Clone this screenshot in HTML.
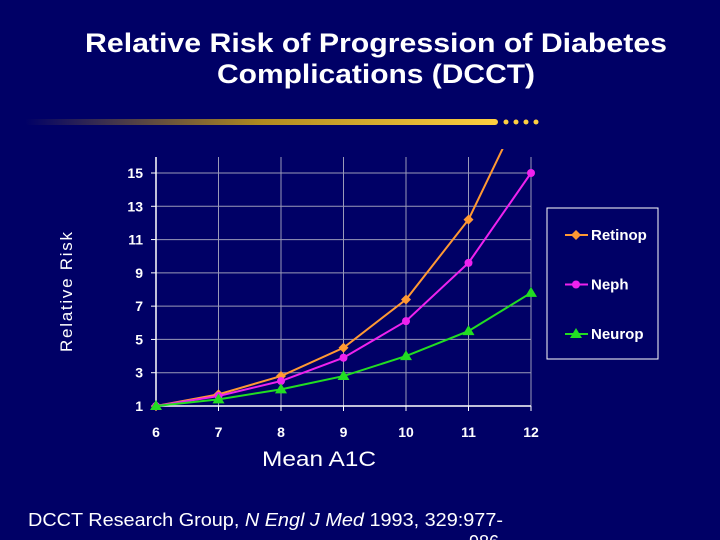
<!DOCTYPE html>
<html><head><meta charset="utf-8"><style>
body{margin:0;background:#000066;}
svg{display:block;font-family:"Liberation Sans",sans-serif;}
</style></head><body>
<svg width="720" height="540" viewBox="0 0 720 540">
<defs>
<linearGradient id="gold" x1="0" x2="1" y1="0" y2="0">
<stop offset="0" stop-color="#000066"/><stop offset="0.5" stop-color="#b08a20"/><stop offset="1" stop-color="#ffd040"/>
</linearGradient>
<clipPath id="plotclip"><rect x="140" y="149" width="420" height="270"/></clipPath>
</defs>
<rect width="720" height="540" fill="#000066"/>
<text x="85" y="52" fill="#ffffff" font-size="27" font-weight="bold" textLength="582" lengthAdjust="spacingAndGlyphs">Relative Risk of Progression of  Diabetes</text>
<text x="217" y="83" fill="#ffffff" font-size="27" font-weight="bold" textLength="318" lengthAdjust="spacingAndGlyphs">Complications (DCCT)</text>
<rect x="25" y="119" width="473" height="6" rx="3" fill="url(#gold)"/>
<g fill="#ffd040">
<circle cx="506" cy="122" r="2.5"/><circle cx="516" cy="122" r="2.5"/><circle cx="526" cy="122" r="2.5"/><circle cx="536" cy="122" r="2.5"/>
</g>
<g id="grid"></g>
<g id="axes"></g>
<g id="series"></g>
<text transform="translate(72,292) rotate(-90)" fill="#ffffff" font-size="17" text-anchor="middle" textLength="120" lengthAdjust="spacing">Relative  Risk</text>
<text x="262" y="466" fill="#ffffff" font-size="21" textLength="114" lengthAdjust="spacingAndGlyphs">Mean A1C</text>
<rect x="547" y="208" width="111" height="151" fill="none" stroke="#ffffff" stroke-width="1"/>
<g id="legend"></g>
<text x="28" y="526" fill="#ffffff" font-size="18" textLength="475" lengthAdjust="spacingAndGlyphs">DCCT Research Group, <tspan font-style="italic">N Engl J Med</tspan> 1993, 329:977-</text>
<text x="469" y="548" fill="#ffffff" font-size="18">986</text>
</svg>
<script>
const categories=[6,7,8,9,10,11,12];
const yTicks=[1,3,5,7,9,11,13,15];
const seriesNames=["Retinop","Neph","Neurop"];
const retinop=[1,1.7,2.8,4.5,7.4,12.2,20];
const neph=[1,1.6,2.5,3.9,6.1,9.6,15];
const neurop=[1,1.4,2.0,2.8,4.0,5.5,7.8];
const NS="http://www.w3.org/2000/svg";
function xs(v){return 156+(v-6)*(531-156)/6;}
function ys(v){return 406-(v-1)*(406-173)/14;}
function mk(t,a,p){const e=document.createElementNS(NS,t);for(const k in a)e.setAttribute(k,a[k]);p.appendChild(e);return e;}
const grid=document.getElementById('grid'),axes=document.getElementById('axes'),ser=document.getElementById('series'),leg=document.getElementById('legend');
yTicks.forEach(t=>{if(t>1)mk('line',{x1:156,x2:531,y1:ys(t),y2:ys(t),stroke:'#9a9ab8','stroke-width':1},grid);
const tx=mk('text',{x:143,y:ys(t)+5,fill:'#fff','font-size':14,'font-weight':'bold','text-anchor':'end'},axes);tx.textContent=t;


mk('line',{x1:151,x2:156,y1:ys(t),y2:ys(t),stroke:'#fff'},axes);});
categories.forEach(c=>{if(c>6)mk('line',{x1:xs(c),x2:xs(c),y1:157,y2:406,stroke:'#9a9ab8','stroke-width':1},grid);
const tx=mk('text',{x:xs(c),y:437,fill:'#fff','font-size':14,'font-weight':'bold','text-anchor':'middle'},axes);tx.textContent=c;


mk('line',{x1:xs(c),x2:xs(c),y1:406,y2:411,stroke:'#fff'},axes);});
mk('line',{x1:156,x2:156,y1:157,y2:406,stroke:'#fff','stroke-width':1.5},axes);
mk('line',{x1:156,x2:531,y1:406,y2:406,stroke:'#fff','stroke-width':1.5},axes);
const data=[retinop,neph,neurop],cols=['#ff9933','#ee22ee','#22dd22'],shapes=['diamond','circle','tri'];
function marker(s,x,y,c,p){let e;if(s==='diamond')e=mk('polygon',{points:`${x},${y-5} ${x+5},${y} ${x},${y+5} ${x-5},${y}`,fill:c},p);
else if(s==='circle')e=mk('circle',{cx:x,cy:y,r:4,fill:c},p);
else e=mk('polygon',{points:`${x},${y-6} ${x+6},${y+4} ${x-6},${y+4}`,fill:c},p);return e;}
data.forEach((d,i)=>{const g=mk('g',{'clip-path':'url(#plotclip)'},ser);


mk('polyline',{points:d.map((v,j)=>xs(categories[j])+','+ys(v)).join(' '),fill:'none',stroke:cols[i],'stroke-width':2},g);
d.forEach((v,j)=>{const m=marker(shapes[i],xs(categories[j]),ys(v),cols[i],g);

});});
seriesNames.forEach((n,i)=>{const y=235+i*49.5;
mk('line',{x1:565,x2:588,y1:y,y2:y,stroke:cols[i],'stroke-width':2},leg);
marker(shapes[i],576,y,cols[i],leg);
const t=mk('text',{x:591,y:y+5,fill:'#fff','font-size':15,'font-weight':'bold'},leg);t.textContent=n;

});
</script>
</body></html>
